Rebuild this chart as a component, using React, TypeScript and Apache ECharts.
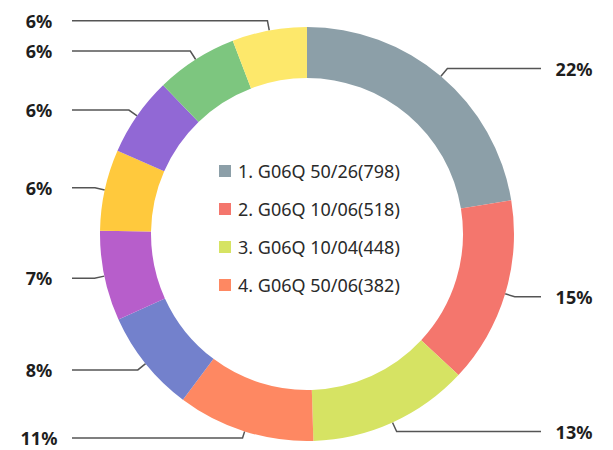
import React, { useEffect, useRef } from "react";
import * as echarts from "echarts";

const names = [
  "1. G06Q 50/26(798)",
  "2. G06Q 10/06(518)",
  "3. G06Q 10/04(448)",
  "4. G06Q 50/06(382)",
  "5. (285)",
  "6. (250)",
  "7. (226)",
  "8. (220)",
  "9. (228)",
  "10. (208)",
];
const values = [798, 518, 448, 382, 285, 250, 226, 220, 228, 208];
const colors = [
  "#8c9fa8",
  "#f4766d",
  "#d6e363",
  "#fe8862",
  "#7381cc",
  "#b75ecb",
  "#ffc93d",
  "#9168d5",
  "#7dc67f",
  "#fde86b",
];
const legendNames = names.slice(0, 4);

export default function App() {
  const ref = useRef<HTMLDivElement>(null);
  useEffect(() => {
    if (!ref.current) return;
    const chart = echarts.init(ref.current, undefined, { renderer: "svg" });
    const total = values.reduce((a, b) => a + b, 0);
    chart.setOption({
      animation: false,
      legend: {
        data: legendNames,
        orient: "vertical",
        left: 214,
        top: 157,
        itemWidth: 12,
        itemHeight: 12,
        itemGap: 20,
        icon: "rect",
        textStyle: {
          fontFamily: "Noto Sans",
          fontSize: 18,
          color: "#2a2a2a",
          padding: [0, 0, 0, 2],
        },
      },
      series: [
        {
          type: "pie",
          center: [307, 234],
          radius: [156, 207],
          startAngle: 90,
          data: names.map((n, i) => ({
            name: n,
            value: values[i],
            itemStyle: { color: colors[i] },
            labelLine: i === 3 ? { length: 7 } : undefined,
          })),
          label: {
            show: true,
            alignTo: "edge",
            edgeDistance: 18,
            distanceToLabelLine: 12,
            formatter: (p: any) => `{p|${Math.round((p.value / total) * 100)}%}`,
            rich: {
              p: {
                width: 42,
                align: "center",
                lineHeight: 18,
                fontFamily: "Noto Sans",
                fontSize: 18,
                fontWeight: "bold",
                color: "#1e1e1e",
              },
            },
          },
          labelLine: {
            show: true,
            length: 10,
            length2: 20,
            lineStyle: { color: "#555", width: 1.5 },
          },
          emphasis: { disabled: true },
        },
      ],
    });
    return () => chart.dispose();
  }, []);
  return (
    <div
      ref={ref}
      style={{ position: "fixed", left: 0, top: 0, width: 613, height: 450, background: "#fff" }}
    />
  );
}
